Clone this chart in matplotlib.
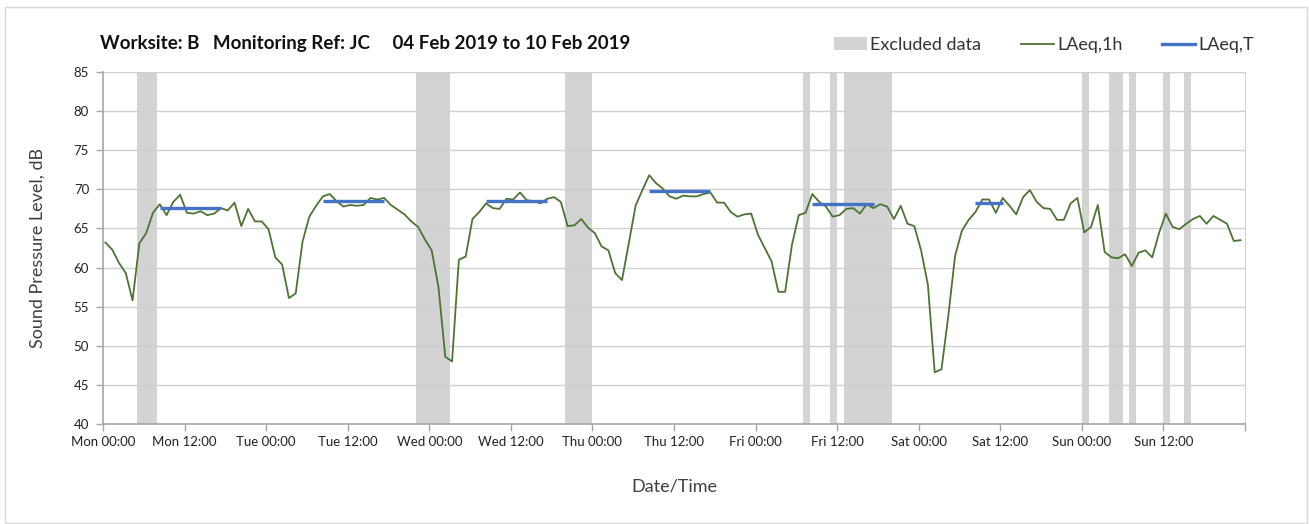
import numpy as np
import pandas as pd
import matplotlib
matplotlib.use("Agg")
import matplotlib.pyplot as plt
import matplotlib.dates as mdates
from matplotlib.patches import Patch, Rectangle
from matplotlib.lines import Line2D

# hourly LAeq,1h values, Mon 04 Feb 2019 00:00 .. Sun 10 Feb 2019 23:00
laeq_1h = [
    63.2, 62.3, 60.6, 59.3, 55.8, 63.1, 64.4, 67.0, 68.1, 66.7, 68.4, 69.3,
    67.0, 66.9, 67.2, 66.7, 66.9, 67.6, 67.3, 68.3, 65.3, 67.5, 65.9, 65.9,
    64.9, 61.3, 60.4, 56.1, 56.7, 63.3, 66.5, 67.9, 69.1, 69.4, 68.5, 67.8,
    68.0, 67.9, 68.0, 68.9, 68.7, 68.9, 68.0, 67.4, 66.8, 65.9, 65.2, 63.6,
    62.2, 57.5, 48.6, 48.0, 61.0, 61.4, 66.2, 67.1, 68.2, 67.6, 67.5, 68.8,
    68.7, 69.6, 68.6, 68.5, 68.2, 68.8, 69.0, 68.4, 65.3, 65.4, 66.2, 65.1,
    64.4, 62.7, 62.2, 59.3, 58.4, 63.1, 67.9, 69.9, 71.8, 70.8, 70.1, 69.1,
    68.8, 69.2, 69.1, 69.1, 69.4, 69.6, 68.3, 68.3, 67.1, 66.5, 66.8, 66.9,
    64.2, 62.5, 60.8, 56.9, 56.9, 62.9, 66.7, 67.0, 69.4, 68.4, 67.8, 66.5,
    66.7, 67.5, 67.6, 66.9, 68.1, 67.6, 68.1, 67.8, 66.2, 67.9, 65.6, 65.3,
    62.2, 57.8, 46.6, 47.0, 53.8, 61.5, 64.7, 66.1, 67.1, 68.7, 68.7, 67.0,
    68.9, 67.9, 66.8, 69.0, 69.9, 68.4, 67.6, 67.5, 66.1, 66.1, 68.2, 68.9,
    64.5, 65.2, 68.0, 62.0, 61.3, 61.2, 61.7, 60.2, 61.9, 62.2, 61.3, 64.4,
    66.9, 65.2, 64.9, 65.6, 66.2, 66.6, 65.6, 66.6, 66.1, 65.6, 63.4, 63.5,
]

# LAeq,T over the daytime periods (first / last hourly value included)
period_start = ["2019-02-04 08:00", "2019-02-05 08:00", "2019-02-06 08:00",
                "2019-02-07 08:00", "2019-02-08 08:00", "2019-02-09 08:00"]
period_end = ["2019-02-04 17:00", "2019-02-05 17:00", "2019-02-06 17:00",
              "2019-02-07 17:00", "2019-02-08 17:00", "2019-02-09 12:00"]
laeq_t = [67.6, 68.5, 68.5, 69.8, 68.1, 68.2]

# excluded data periods
excl_start = ["2019-02-04 05:00", "2019-02-05 22:00", "2019-02-06 20:00",
              "2019-02-08 07:00", "2019-02-08 11:00", "2019-02-08 13:00",
              "2019-02-10 00:00", "2019-02-10 04:00", "2019-02-10 07:00",
              "2019-02-10 12:00", "2019-02-10 15:00"]
excl_end = ["2019-02-04 08:00", "2019-02-06 03:00", "2019-02-07 00:00",
            "2019-02-08 08:00", "2019-02-08 12:00", "2019-02-08 20:00",
            "2019-02-10 01:00", "2019-02-10 06:00", "2019-02-10 08:00",
            "2019-02-10 13:00", "2019-02-10 16:00"]

title = "Worksite: B   Monitoring Ref: JC     04 Feb 2019 to 10 Feb 2019"

plt.rcParams["font.family"] = ["Lato", "DejaVu Sans"]

hours = pd.date_range("2019-02-04 00:00", periods=len(laeq_1h), freq="h")
times = hours + pd.Timedelta(minutes=21)
x_min = pd.Timestamp("2019-02-04")
x_max = pd.Timestamp("2019-02-11")

GREEN = "#4e7335"
BLUE = "#4472c4"
BAND = "#d3d3d3"
GRID = "#d0d0d0"
AXIS = "#a6a6a6"
TEXT = "#404040"

fig = plt.figure(figsize=(13.09, 5.24), dpi=100)
ax = fig.add_axes([103 / 1309, 1 - 424 / 524, 1142 / 1309, 352 / 524])

for s, e in zip(excl_start, excl_end):
    ax.axvspan(pd.Timestamp(s), pd.Timestamp(e), color=BAND, lw=0, zorder=1)

ax.plot(times, laeq_1h, color=GREEN, lw=1.3, zorder=3)

for s, e, v in zip(period_start, period_end, laeq_t):
    sel = (hours >= pd.Timestamp(s)) & (hours <= pd.Timestamp(e))
    ax.plot(times[sel], [v] * sel.sum(), color=BLUE, lw=2.4, zorder=4,
            solid_capstyle="butt")

ax.set_xlim(x_min, x_max)
ax.set_ylim(40, 85)
ax.set_yticks(np.arange(40, 86, 5))
ax.xaxis.set_major_locator(mdates.HourLocator(byhour=[0, 12]))
last = mdates.date2num(x_max)
fmt = mdates.DateFormatter("%a %H:%M")
ax.xaxis.set_major_formatter(
    plt.FuncFormatter(lambda v, pos: "" if v >= last - 1e-6 else fmt(v, pos)))
ax.xaxis.set_minor_locator(mdates.DayLocator())

ax.grid(axis="y", color=GRID, lw=1.0, zorder=2)
ax.grid(axis="x", which="minor", color="#e0e0e0", lw=1.0, zorder=2)
ax.set_axisbelow(False)

for side in ["left", "bottom"]:
    ax.spines[side].set_color(AXIS)
    ax.spines[side].set_linewidth(1.2)
    ax.spines[side].set_zorder(5)
ax.spines["top"].set_color(GRID)
ax.spines["right"].set_color(GRID)

ax.tick_params(axis="both", which="major", colors=AXIS, length=5, width=1.0,
               labelcolor="#222222", labelsize=9.5)
ax.tick_params(axis="x", which="minor", length=0)
ax.tick_params(axis="y", pad=5)

ax.set_ylabel("Sound Pressure Level, dB", fontsize=13, color=TEXT, labelpad=20)
ax.set_xlabel("Date/Time", fontsize=13, color=TEXT, labelpad=22)

fig.text(100 / 1309, 1 - 44 / 524, title, fontsize=13.5, fontweight="bold",
         color="#111111", va="center", ha="left")

handles = [Patch(facecolor=BAND, edgecolor="none"),
           Line2D([], [], color=GREEN, lw=1.3),
           Line2D([], [], color=BLUE, lw=2.4)]
labels = ["Excluded data", "LAeq,1h", "LAeq,T"]
fig.legend(handles, labels, loc="center right",
           bbox_to_anchor=(1254 / 1309, 1 - 45 / 524), ncol=3, frameon=False,
           fontsize=13, handlelength=1.8, handletextpad=0.2, columnspacing=2.2,
           borderaxespad=0, borderpad=0, labelcolor="#333333")

# outer chart border
fig.patches.append(Rectangle((5 / 1309, 1 / 524), 1302 / 1309, 516 / 524,
                             transform=fig.transFigure, fill=False,
                             edgecolor="#d9d9d9", lw=1.0))

fig.savefig("out.png", dpi=100, facecolor="white")
